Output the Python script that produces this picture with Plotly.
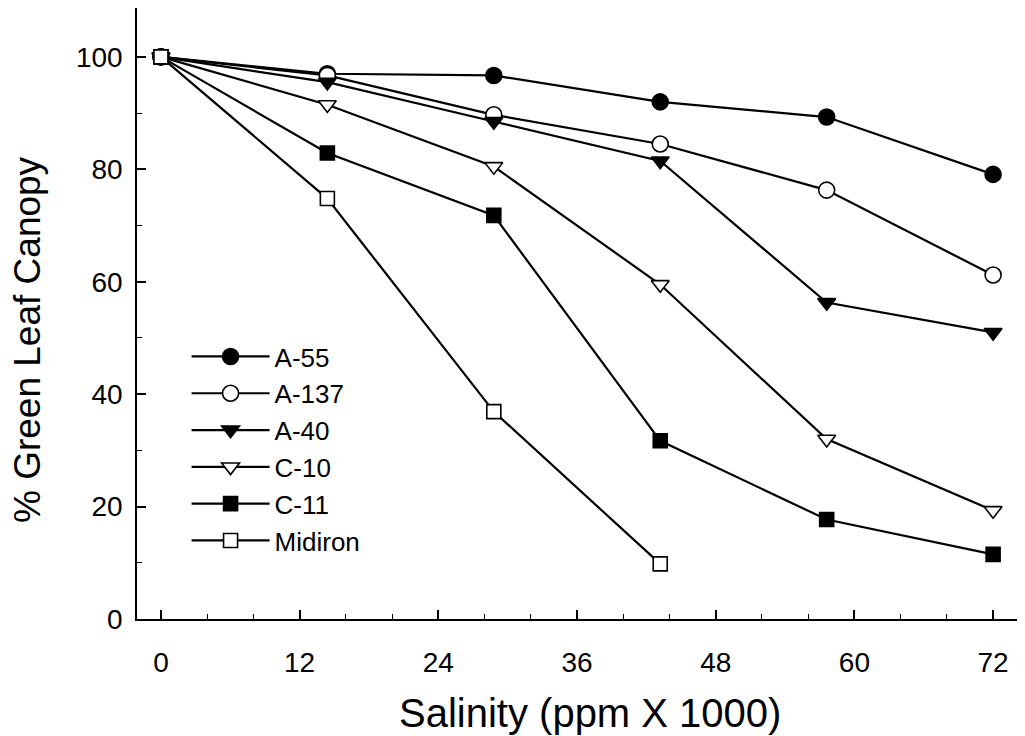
import plotly.graph_objects as go

salinity = [0, 14.4, 28.8, 43.2, 57.6, 72]
names = ["A-55", "A-137", "A-40", "C-10", "C-11", "Midiron"]
a55 = [100, 97, 96.7, 92.0, 89.3, 79.1]
a137 = [100, 96.7, 89.7, 84.5, 76.3, 61.2]
a40 = [100, 95.5, 88.5, 81.5, 56.3, 51.0]
c10 = [100, 91.5, 80.5, 59.5, 32.0, 19.3]
c11 = [100, 82.9, 71.8, 31.7, 17.7, 11.5]
midiron = [100, 74.8, 36.9, 9.8]

series = [a55, a137, a40, c10, c11, midiron]
symbols = ["circle", "circle", "triangle-down", "triangle-down", "square", "square"]
fills = ["black", "white", "black", "white", "black", "white"]
sizes = [16, 16, 15.5, 15.5, 14, 14]

x_ticks = [0, 12, 24, 36, 48, 60, 72]
y_ticks = [0, 20, 40, 60, 80, 100]

fig = go.Figure()
for name, vals, sym, fc, sz in zip(names, series, symbols, fills, sizes):
    fig.add_trace(go.Scatter(
        x=salinity[:len(vals)], y=vals, name=name, mode="lines+markers",
        line=dict(color="black", width=2.2),
        marker=dict(symbol=sym, size=sz, color=fc, line=dict(color="black", width=1.6)),
    ))

font = "Liberation Sans, Arial, sans-serif"
# page body has an 8px margin; the figure is sized/offset to compensate
fig.update_layout(
    width=1017, height=728,
    margin=dict(l=129, r=3, t=0, b=117),
    paper_bgcolor="white", plot_bgcolor="white",
    font=dict(family=font, color="black", size=28),
    showlegend=True,
    legend=dict(x=0.056, y=0.468, xanchor="left", yanchor="top",
                bgcolor="rgba(0,0,0,0)", font=dict(size=26, family=font),
                itemwidth=78, tracegroupgap=0),
    xaxis=dict(range=[-2.07, 74.5], tickvals=x_ticks, ticks="inside", ticklen=9,
               tickwidth=1.5, tickcolor="black", tickfont=dict(size=28, family=font),
               showline=True, linecolor="black", linewidth=1.5, mirror=True,
               showgrid=False, zeroline=False, ticklabelstandoff=18, automargin=False,
               minor=dict(dtick=4, tick0=0, ticks="inside", ticklen=5, tickwidth=1.2,
                          tickcolor="black", showgrid=False)),
    yaxis=dict(range=[0, 108.7], tickvals=y_ticks, ticks="inside", ticklen=9,
               tickwidth=1.5, tickcolor="black", tickfont=dict(size=28, family=font),
               showline=True, linecolor="black", linewidth=1.5, mirror=True,
               showgrid=False, zeroline=False, ticklabelstandoff=7, automargin=False,
               minor=dict(dtick=10, tick0=0, ticks="inside", ticklen=5, tickwidth=1.2,
                          tickcolor="black", showgrid=False)),
    annotations=[
        dict(text="Salinity (ppm X 1000)", xref="paper", yref="paper",
             x=(590 - 137) / 885, y=(619 - 713) / 611, xanchor="center", yanchor="middle",
             showarrow=False, font=dict(size=40, family=font)),
        dict(text="% Green Leaf Canopy", xref="paper", yref="paper",
             x=(27 - 137) / 885, y=(619 - 340) / 611, xanchor="center", yanchor="middle",
             textangle=-90, showarrow=False, font=dict(size=37, family=font)),
    ],
)

fig.write_html("out.html")
